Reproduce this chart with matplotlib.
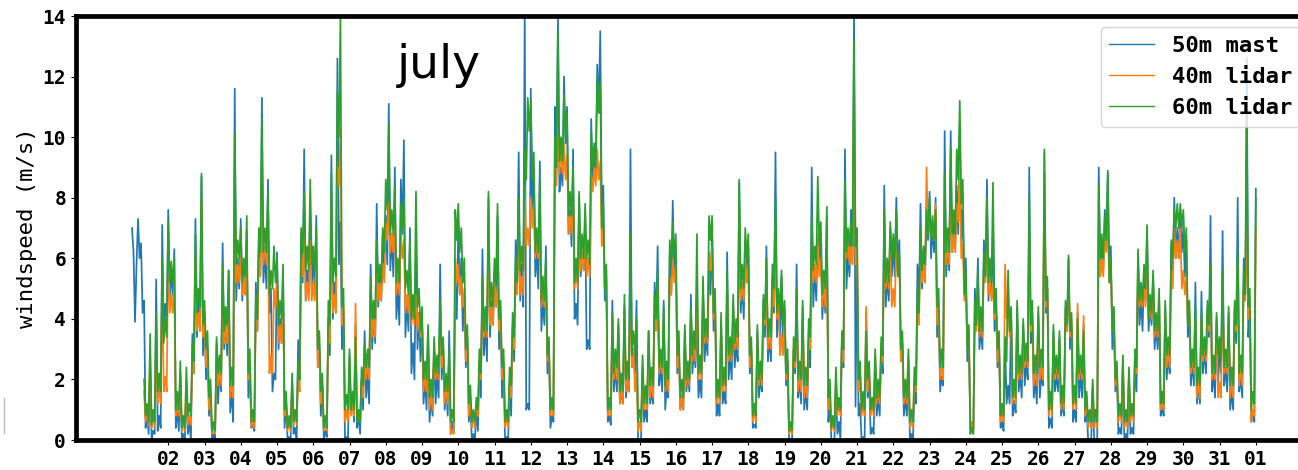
import numpy as np
import pandas as pd
import matplotlib
matplotlib.use("Agg")
import matplotlib.pyplot as plt
import matplotlib.dates as mdates
from matplotlib.lines import Line2D

nan = np.nan

# Wind speeds (m/s), 1 July 00:00 -> 1 August 00:00, one row per day.
# *_peak: readings on the even hours, *_dip: the troughs on the odd hours in between
mast_50m_peak = [
    7.0, 3.9, 7.3, 6.5, 4.6, 1.0, 2.4, 0.3, 5.3, 0.8, 7.1, 4.5,
    7.6, 5.6, 6.3, 1.0, 2.2, 0.2, 1.8, 0.6, 3.5, 7.3, 4.6, 8.7,
    4.2, 3.0, 1.6, 0.2, 3.2, 2.4, 6.5, 4.0, 5.6, 1.6, 11.6, 6.0,
    7.3, 5.6, 6.9, 2.4, 0.5, 5.2, 6.8, 11.3, 6.2, 8.6, 5.0, 2.2,
    6.2, 4.0, 5.6, 1.2, 0.1, 2.0, 0.4, 3.3, 6.8, 9.6, 5.6, 7.5,
    6.0, 7.4, 3.2, 1.8, 0.3, 4.0, 9.4, 5.2, 12.6, 7.2, 4.0, 0.1,
    2.8, 1.4, 3.8, 0.8, 2.0, 3.6, 2.2, 5.8, 4.2, 7.8, 5.4, 6.8,
    7.4, 11.1, 6.8, 9.0, 5.0, 8.6, 9.9, 4.6, 7.0, 3.2, 6.4, 4.2,
    4.0, 2.0, 3.6, 1.4, 3.0, 2.2, 5.8, 3.0, 1.8, 3.6, 0.6, 5.2,
    7.0, 6.0, 4.8, 3.4, 1.2, 0.2, 1.0, 2.6, 6.3, 3.8, 8.0, 4.6,
    5.6, 7.4, 4.0, 2.4, 0.1, 1.8, 3.8, 6.6, 9.5, 5.8, 14.2, 1.2,
    11.6, 8.8, 6.2, 9.2, 4.6, 6.4, 3.0, 0.8, 11.0, 13.9, 9.0, 12.0,
    11.0, 7.6, 9.6, 4.5, 8.0, 6.2, 7.4, 3.3, 10.6, 9.4, 12.4, 13.5,
    8.4, 5.4, 0.8, 4.6, 2.4, 3.8, 1.6, 4.4, 2.0, 9.6, 3.0, 4.6,
    0.0, 2.4, 1.0, 3.6, 1.6, 5.2, 6.4, 2.4, 4.6, 1.8, 6.2, 7.9,
    6.4, 3.0, 1.4, 3.6, 2.2, 4.8, 3.0, 4.2, 2.0, 5.0, 3.4, 6.0,
    7.0, 4.6, 1.2, 3.8, 1.6, 6.2, 2.8, 4.4, 3.2, 8.5, 5.2, 6.6,
    6.4, 3.0, 0.5, 3.6, 2.0, 4.6, 6.4, 3.4, 5.4, 9.5, 4.4, 5.4,
    4.4, 2.6, 0.0, 3.0, 5.8, 2.0, 4.4, 1.6, 3.2, 9.0, 5.6, 6.8,
    6.8, 5.0, 7.4, 1.2, 0.0, 1.8, 0.6, 3.4, 9.6, 6.2, 7.6, 14.2,
    6.0, 1.2, 0.1, 4.2, 2.0, 0.4, 2.6, 1.4, 3.0, 8.4, 5.4, 7.0,
    6.4, 8.0, 6.6, 3.2, 1.4, 2.6, 0.2, 1.6, 5.8, 7.8, 6.0, 7.8,
    8.2, 7.0, 8.0, 4.2, 2.1, 10.2, 6.4, 10.2, 7.2, 8.4, 10.4, 7.6,
    6.0, 3.4, 0.6, 5.0, 6.0, 3.6, 6.6, 8.6, 5.6, 7.2, 4.4, 3.2,
    0.6, 3.2, 1.8, 4.2, 1.3, 4.4, 2.2, 3.8, 2.6, 9.0, 4.0, 2.0,
    4.0, 2.2, 8.8, 5.0, 0.7, 3.6, 2.2, 3.4, 1.2, 4.4, 6.0, 3.8,
    1.0, 4.2, 2.2, 3.8, 1.0, 0.0, 1.6, 0.0, 9.0, 6.4, 7.6, 8.8,
    6.4, 4.0, 2.2, 0.4, 2.4, 0.2, 2.0, 0.4, 2.6, 6.0, 4.6, 5.6,
    6.8, 4.4, 5.4, 3.8, 4.6, 1.1, 4.4, 2.8, 6.4, 8.0, 7.0, 7.6,
    7.0, 6.6, 4.2, 2.6, 5.2, 1.8, 4.9, 3.0, 4.4, 7.4, 2.2, 4.0,
    3.0, 6.9, 2.4, 4.2, 1.6, 4.4, 8.0, 2.1, 6.0, 12.6, 4.2, 0.9,
    8.3,
]
mast_50m_dip = [
    6.2, 5.8, 6.0, 4.2, 0.4, 0.2, 0.0, 0.2, 0.3, 0.4, 3.6, 4.0,
    4.6, 4.8, 0.4, 0.3, 0.0, 0.0, 0.2, 0.0, 2.2, 3.4, 3.6, 2.8,
    2.0, 0.8, 0.0, 0.0, 1.2, 1.6, 3.0, 2.8, 0.9, 0.6, 4.6, 5.0,
    4.6, 4.8, 1.4, 0.4, 0.3, 3.6, 5.6, 5.2, 5.0, 4.2, 1.6, 2.0,
    3.0, 3.2, 0.4, 0.0, 0.0, 0.2, 0.0, 2.0, 5.2, 4.6, 4.8, 5.0,
    5.0, 2.4, 0.8, 0.0, 0.1, 2.8, 4.0, 4.2, 5.8, 3.0, 0.0, 0.0,
    0.9, 0.6, 0.4, 0.2, 1.0, 1.4, 1.2, 3.0, 3.2, 4.4, 4.6, 5.6,
    5.8, 5.6, 5.4, 4.0, 3.8, 6.8, 3.4, 3.6, 2.2, 2.0, 3.0, 2.6,
    1.2, 1.0, 0.6, 0.8, 1.2, 1.4, 2.0, 1.0, 0.8, 0.2, 0.3, 4.0,
    4.8, 3.6, 2.4, 0.6, 0.0, 0.0, 0.3, 1.4, 2.8, 2.6, 3.4, 3.8,
    4.4, 3.0, 1.4, 0.0, 0.0, 0.8, 2.6, 5.2, 4.6, 4.4, 1.0, 1.0,
    7.6, 5.4, 5.0, 3.6, 3.8, 2.2, 0.4, 0.6, 9.6, 8.2, 8.4, 9.8,
    6.8, 6.4, 4.0, 3.8, 5.4, 5.6, 3.0, 3.0, 8.4, 8.6, 10.8, 7.4,
    4.6, 0.6, 0.5, 1.6, 1.6, 1.2, 1.2, 1.4, 1.6, 2.4, 2.2, 0.0,
    0.0, 0.6, 0.6, 1.2, 1.2, 4.0, 1.8, 1.6, 1.0, 1.4, 4.8, 5.4,
    2.2, 1.0, 1.0, 1.6, 1.6, 2.2, 2.4, 1.4, 1.4, 2.6, 2.8, 4.8,
    3.6, 0.8, 0.8, 1.2, 1.2, 2.0, 2.0, 2.4, 2.6, 4.2, 4.0, 5.2,
    2.2, 0.4, 0.4, 1.4, 1.6, 3.4, 2.6, 2.6, 4.2, 3.4, 3.4, 3.0,
    1.8, 0.0, 0.0, 2.2, 1.4, 1.2, 1.0, 1.0, 2.4, 4.4, 4.6, 5.6,
    4.0, 4.2, 0.6, 0.0, 0.0, 0.2, 0.0, 2.4, 5.0, 5.4, 6.0, 1.1,
    0.8, 0.0, 0.0, 1.4, 0.2, 0.2, 0.8, 0.8, 2.2, 4.4, 4.6, 5.4,
    5.4, 5.6, 2.6, 0.8, 0.8, 0.0, 0.0, 1.2, 4.6, 5.0, 5.2, 6.6,
    6.0, 6.2, 3.4, 1.6, 1.8, 5.4, 5.6, 6.2, 6.4, 6.8, 6.6, 5.0,
    2.6, 0.4, 0.4, 3.8, 3.0, 3.0, 5.4, 4.6, 4.8, 3.6, 2.4, 0.4,
    0.3, 1.2, 1.2, 0.8, 0.9, 1.6, 1.4, 1.8, 2.0, 3.2, 1.4, 1.2,
    1.4, 1.8, 4.2, 0.4, 0.4, 1.6, 1.6, 0.8, 0.8, 3.6, 3.0, 0.6,
    0.6, 1.4, 1.4, 0.6, 0.0, 0.0, 0.0, 0.0, 5.4, 5.6, 6.6, 5.4,
    3.0, 1.6, 0.2, 0.2, 0.0, 0.0, 0.2, 0.2, 1.6, 3.8, 3.6, 4.6,
    3.6, 3.8, 3.0, 3.0, 0.8, 0.8, 2.0, 2.2, 5.4, 6.0, 6.0, 6.2,
    5.4, 3.4, 1.8, 1.8, 1.2, 1.2, 2.2, 2.2, 3.4, 1.6, 1.4, 1.8,
    2.2, 1.8, 1.6, 1.0, 1.0, 3.2, 1.6, 1.4, 4.8, 3.4, 0.6, 0.6,
]

lidar_40m_peak = [
    nan, nan, nan, nan, 1.6, 1.0, 2.8, 0.9, 3.6, 1.8, 5.4, 2.1,
    6.5, 4.8, 5.2, 1.2, 2.0, 0.6, 1.9, 0.8, 2.8, 6.0, 4.2, 7.9,
    4.0, 3.0, 1.5, 0.5, 2.8, 2.3, 5.0, 3.8, 5.0, 2.0, 9.0, 5.8,
    6.2, 5.4, 6.3, 2.6, 0.8, 4.3, 6.0, 9.2, 6.4, 7.0, 2.8, 5.0,
    5.2, 3.8, 4.6, 1.3, 0.6, 1.8, 0.9, 2.1, 6.0, 7.2, 5.2, 6.6,
    5.2, 6.0, 3.0, 1.8, 0.6, 3.8, 7.6, 4.8, 9.0, 10.3, 4.4, 1.0,
    2.6, 1.2, 4.5, 0.9, 2.0, 2.8, 2.6, 5.0, 4.0, 6.0, 5.2, 5.8,
    7.2, 7.8, 6.8, 7.2, 5.4, 6.8, 6.6, 4.8, 5.8, 4.4, 4.8, 4.2,
    4.0, 2.2, 3.3, 1.6, 3.0, 2.5, 4.0, 3.0, 1.8, 2.6, 0.3, 6.0,
    5.8, 5.4, 5.0, 3.2, 1.4, 0.8, 1.2, 2.6, 4.8, 4.0, 6.6, 4.4,
    5.2, 5.1, 4.2, 2.6, 0.8, 2.0, 3.6, 5.4, 6.8, 5.4, 8.4, 7.0,
    8.0, 7.8, 6.6, 7.2, 5.0, 5.6, 3.2, 1.2, 9.0, 10.0, 9.6, 9.8,
    9.4, 7.4, 8.4, 5.6, 7.4, 6.2, 7.0, 6.0, 8.8, 9.0, 9.6, 9.2,
    7.0, 5.6, 1.2, 3.8, 2.6, 3.6, 1.8, 4.0, 2.2, 5.4, 3.0, 2.2,
    0.6, 2.4, 1.4, 3.2, 2.0, 4.2, 5.0, 2.8, 4.0, 2.2, 5.4, 6.0,
    5.8, 3.0, 1.5, 3.4, 2.4, 4.0, 3.2, 5.2, 2.6, 4.8, 3.8, 6.2,
    6.4, 4.6, 1.8, 3.8, 2.2, 5.0, 3.2, 4.2, 3.6, 7.4, 5.2, 6.0,
    5.8, 3.0, 1.0, 3.4, 2.4, 4.4, 5.4, 3.6, 5.0, 6.4, 4.6, 3.5,
    4.2, 2.6, 0.4, 3.0, 4.6, 2.2, 4.2, 2.0, 3.6, 6.4, 5.8, 6.8,
    6.0, 5.1, 6.2, 1.6, 0.6, 2.0, 1.2, 3.2, 7.6, 6.6, 6.4, 12.2,
    6.4, 2.2, 1.2, 4.4, 2.2, 1.2, 2.8, 1.8, 3.2, 7.0, 5.6, 6.2,
    5.0, 6.6, 6.0, 3.2, 1.8, 2.8, 0.8, 2.0, 4.3, 6.4, 5.8, 9.0,
    7.4, 7.2, 7.8, 4.4, 2.6, 7.6, 6.4, 8.2, 6.8, 7.8, 9.2, 6.5,
    5.2, 3.6, 0.6, 4.2, 5.0, 4.0, 5.8, 7.0, 5.4, 5.1, 4.6, 3.2,
    1.0, 5.8, 4.6, 4.0, 1.8, 4.0, 2.6, 3.6, 3.0, 6.6, 4.2, 2.4,
    4.2, 2.6, 9.5, 5.0, 1.4, 3.4, 2.6, 3.2, 1.6, 4.2, 5.4, 4.0,
    1.6, 4.5, 2.6, 4.1, 1.4, 0.8, 1.8, 0.8, 7.0, 6.0, 6.8, 7.0,
    5.8, 4.3, 2.4, 1.0, 2.6, 0.8, 2.2, 1.0, 2.8, 5.6, 5.0, 5.0,
    6.0, 4.6, 5.2, 4.0, 4.8, 1.4, 4.2, 3.0, 5.6, 7.0, 6.6, 7.0,
    5.6, 5.4, 4.4, 2.8, 4.0, 2.0, 4.0, 3.2, 4.2, 5.2, 2.6, 3.8,
    1.9, 5.2, 2.8, 4.0, 2.0, 4.2, 5.8, 2.4, 5.2, 7.0, 4.6, 1.0,
    7.0,
]
lidar_40m_dip = [
    nan, nan, nan, nan, 0.6, 0.5, 0.4, 0.4, 1.2, 1.2, 1.6, 1.6,
    4.2, 4.2, 0.8, 0.8, 0.3, 0.3, 0.5, 0.5, 2.2, 3.6, 3.6, 3.4,
    2.4, 1.0, 0.2, 0.2, 1.8, 1.8, 3.2, 3.2, 1.4, 1.4, 5.2, 5.2,
    4.8, 4.8, 2.0, 0.4, 0.4, 3.6, 5.4, 5.8, 5.8, 2.2, 2.2, 4.4,
    3.2, 3.2, 0.8, 0.3, 0.3, 0.5, 0.5, 1.6, 5.4, 4.6, 4.6, 4.6,
    4.6, 2.4, 1.2, 0.3, 0.3, 3.2, 4.2, 4.2, 8.4, 3.8, 0.6, 0.6,
    0.8, 0.8, 0.6, 0.6, 1.4, 2.0, 2.0, 3.4, 3.4, 4.6, 4.6, 5.2,
    6.6, 6.2, 6.2, 4.8, 4.8, 6.0, 4.2, 4.2, 3.8, 3.8, 3.6, 3.4,
    1.6, 1.6, 1.0, 1.0, 2.0, 2.0, 2.4, 1.2, 1.2, 0.2, 0.2, 5.2,
    4.8, 4.4, 2.6, 0.8, 0.4, 0.4, 0.8, 2.0, 3.4, 3.4, 3.8, 3.8,
    4.4, 3.6, 2.0, 0.4, 0.4, 1.4, 3.0, 4.8, 4.8, 4.8, 6.4, 6.4,
    7.0, 6.0, 6.0, 4.4, 4.4, 2.6, 0.8, 0.8, 8.4, 8.8, 8.8, 8.6,
    6.8, 6.8, 5.0, 5.0, 5.6, 5.6, 5.4, 5.4, 8.2, 8.4, 8.6, 6.4,
    5.0, 0.8, 0.8, 2.0, 2.0, 1.2, 1.2, 1.6, 1.6, 2.4, 1.6, 0.3,
    0.3, 1.0, 1.0, 1.4, 1.4, 3.6, 2.2, 2.2, 1.6, 1.6, 4.8, 5.2,
    2.4, 1.0, 1.0, 1.8, 1.8, 2.6, 2.6, 2.0, 2.0, 3.2, 3.2, 5.6,
    4.0, 1.2, 1.2, 1.6, 1.6, 2.6, 2.6, 3.0, 3.0, 4.6, 4.6, 5.2,
    2.4, 0.6, 0.6, 1.8, 1.8, 3.8, 3.0, 3.0, 4.4, 4.0, 2.8, 2.8,
    2.0, 0.2, 0.2, 2.4, 1.6, 1.6, 1.4, 1.4, 3.0, 5.2, 5.2, 5.4,
    4.4, 4.4, 1.0, 0.3, 0.3, 0.8, 0.8, 2.6, 6.0, 5.8, 5.8, 5.8,
    1.6, 0.8, 0.8, 1.6, 0.8, 0.8, 1.2, 1.2, 2.6, 5.0, 5.0, 4.4,
    4.4, 5.4, 2.6, 1.2, 1.2, 0.4, 0.4, 1.6, 3.8, 5.2, 5.2, 6.8,
    6.6, 6.6, 3.8, 2.0, 2.0, 5.8, 5.8, 6.2, 6.2, 7.2, 6.0, 4.6,
    3.0, 0.3, 0.3, 3.6, 3.4, 3.4, 5.2, 4.8, 4.6, 4.0, 2.6, 0.6,
    0.6, 4.0, 3.4, 1.2, 1.2, 2.0, 2.0, 2.4, 2.4, 3.6, 1.8, 1.8,
    2.0, 2.0, 4.4, 0.8, 0.8, 2.0, 2.0, 1.0, 1.0, 3.6, 3.4, 1.0,
    1.0, 2.0, 2.0, 0.8, 0.4, 0.4, 0.4, 0.4, 5.4, 5.4, 6.2, 5.2,
    3.6, 1.8, 0.6, 0.6, 0.4, 0.4, 0.6, 0.6, 2.2, 4.4, 4.4, 4.4,
    4.0, 4.0, 3.4, 3.4, 1.0, 1.0, 2.4, 2.4, 5.0, 6.0, 6.0, 5.0,
    4.8, 3.8, 2.2, 2.2, 1.4, 1.4, 2.6, 2.6, 3.6, 2.0, 2.0, 1.4,
    1.4, 2.2, 2.2, 1.4, 1.4, 3.6, 1.8, 1.8, 4.6, 4.0, 0.6, 0.8,
]

lidar_60m_peak = [
    nan, nan, nan, nan, 2.0, 1.2, 3.5, 1.0, 4.2, 2.2, 6.0, 4.0,
    7.2, 5.9, 6.0, 1.6, 2.6, 0.8, 2.4, 1.2, 3.2, 6.8, 5.0, 8.8,
    4.6, 3.6, 2.0, 0.6, 3.4, 2.8, 5.8, 4.4, 5.6, 2.4, 10.1, 6.6,
    7.0, 6.0, 7.4, 3.0, 1.0, 4.8, 7.0, 10.6, 7.0, 8.2, 5.6, 6.4,
    6.0, 4.6, 5.8, 1.6, 0.8, 2.2, 1.0, 2.6, 7.0, 8.2, 6.4, 8.6,
    6.4, 7.0, 3.6, 2.2, 0.8, 4.6, 8.8, 6.0, 11.5, 14.0, 5.0, 1.5,
    3.0, 1.6, 3.4, 1.0, 2.4, 3.2, 3.0, 5.4, 4.6, 6.6, 5.8, 7.0,
    8.6, 10.4, 7.6, 8.4, 6.0, 7.8, 8.0, 5.6, 6.6, 4.8, 8.2, 5.0,
    4.4, 2.6, 3.8, 2.0, 3.4, 2.8, 4.6, 3.4, 2.2, 3.0, 1.0, 7.6,
    7.8, 7.0, 6.0, 3.8, 1.8, 1.0, 1.4, 3.0, 5.4, 4.4, 8.2, 5.2,
    6.0, 7.8, 4.6, 3.0, 1.0, 2.4, 4.2, 6.0, 8.0, 6.4, 9.6, 11.3,
    11.2, 9.5, 7.0, 8.6, 5.4, 6.0, 3.4, 1.4, 10.0, 13.5, 10.0, 11.4,
    10.8, 8.2, 9.0, 6.0, 8.2, 6.8, 7.8, 6.6, 10.2, 9.8, 12.0, 11.8,
    7.8, 5.8, 1.4, 4.2, 3.0, 4.0, 2.2, 4.8, 2.6, 6.8, 3.6, 4.0,
    1.0, 2.8, 1.8, 3.6, 2.4, 4.8, 5.6, 3.0, 4.4, 2.6, 6.6, 7.2,
    6.8, 3.6, 2.0, 3.8, 2.6, 4.4, 3.6, 6.8, 2.8, 5.4, 4.0, 7.4,
    7.4, 5.0, 2.0, 4.2, 2.4, 5.6, 3.4, 4.8, 4.0, 8.6, 5.8, 7.0,
    6.8, 3.4, 1.2, 3.8, 2.6, 4.8, 6.0, 4.0, 5.8, 8.0, 5.0, 5.6,
    4.6, 3.0, 0.6, 3.4, 5.0, 2.6, 4.6, 2.4, 4.0, 7.4, 6.4, 8.7,
    7.2, 5.6, 7.7, 2.0, 0.8, 2.4, 1.4, 3.6, 8.6, 7.0, 7.2, 13.2,
    7.0, 2.6, 1.6, 3.6, 2.6, 1.4, 3.0, 2.0, 3.4, 7.6, 6.0, 7.2,
    6.8, 7.6, 6.2, 3.6, 2.0, 3.0, 1.0, 2.4, 5.0, 7.0, 6.4, 7.6,
    8.0, 7.4, 7.6, 5.0, 3.0, 8.8, 7.0, 9.6, 7.6, 9.6, 11.2, 8.6,
    5.6, 3.8, 0.4, 4.6, 5.6, 4.4, 6.2, 8.0, 6.0, 8.5, 5.0, 3.6,
    1.2, 3.4, 5.6, 4.4, 2.0, 4.6, 2.8, 4.0, 3.2, 8.0, 4.6, 2.8,
    4.4, 3.0, 9.6, 5.4, 1.6, 3.8, 2.8, 3.6, 1.8, 4.6, 6.1, 4.2,
    1.8, 4.0, 2.8, 3.6, 1.6, 1.0, 2.0, 1.0, 8.4, 6.8, 7.4, 8.9,
    6.0, 4.4, 2.6, 1.2, 2.8, 1.0, 2.4, 1.2, 3.0, 6.3, 5.2, 5.8,
    7.1, 4.8, 5.6, 4.2, 5.0, 1.6, 4.6, 3.4, 6.6, 7.6, 7.8, 7.8,
    7.6, 7.0, 4.6, 3.0, 4.4, 2.4, 4.2, 3.4, 4.6, 5.8, 2.8, 4.2,
    3.4, 5.6, 3.0, 4.4, 2.4, 4.6, 6.4, 2.8, 5.6, 10.6, 5.0, 1.6,
    8.0,
]
lidar_60m_dip = [
    nan, nan, nan, nan, 0.8, 0.6, 0.5, 0.6, 1.6, 1.6, 3.2, 3.4,
    5.2, 5.2, 1.0, 1.0, 0.4, 0.4, 0.8, 0.8, 2.6, 4.2, 4.4, 3.8,
    3.0, 1.4, 0.3, 0.3, 2.2, 2.2, 3.6, 3.8, 1.8, 1.8, 5.8, 6.0,
    5.2, 5.4, 2.2, 0.6, 0.6, 4.0, 6.2, 6.2, 6.2, 4.8, 5.0, 5.2,
    3.8, 4.0, 1.0, 0.4, 0.4, 0.6, 0.6, 2.0, 6.2, 5.6, 5.6, 5.8,
    5.6, 3.0, 1.6, 0.4, 0.4, 3.8, 5.2, 5.4, 10.0, 4.4, 1.0, 1.0,
    1.0, 1.0, 0.6, 0.6, 1.8, 2.4, 2.4, 4.0, 4.0, 5.2, 5.2, 6.2,
    7.6, 6.8, 6.8, 5.2, 5.2, 7.0, 5.0, 4.8, 4.0, 4.0, 4.4, 3.6,
    2.0, 2.0, 1.4, 1.4, 2.2, 2.2, 2.8, 1.6, 1.6, 0.6, 0.6, 6.6,
    6.2, 5.2, 3.0, 1.2, 0.6, 0.6, 1.0, 2.2, 3.6, 3.6, 4.4, 4.4,
    5.2, 4.0, 2.4, 0.6, 0.6, 1.8, 3.4, 5.2, 5.6, 5.6, 8.6, 10.2,
    8.6, 6.2, 6.2, 4.6, 4.6, 2.8, 1.0, 1.0, 9.0, 9.2, 9.2, 10.0,
    7.4, 7.4, 5.2, 5.2, 6.0, 6.0, 6.0, 5.8, 9.0, 9.0, 10.8, 7.0,
    5.0, 1.0, 1.0, 2.2, 2.4, 1.6, 1.6, 2.0, 2.0, 2.8, 3.0, 0.6,
    0.6, 1.2, 1.2, 1.8, 1.8, 4.0, 2.4, 2.4, 1.8, 2.0, 5.8, 6.0,
    2.8, 1.4, 1.4, 2.0, 2.0, 2.8, 3.0, 2.2, 2.2, 3.4, 3.4, 6.6,
    4.2, 1.4, 1.4, 1.8, 1.8, 2.8, 2.8, 3.2, 3.4, 5.0, 5.0, 6.0,
    2.8, 0.8, 0.8, 2.0, 2.0, 4.0, 3.4, 3.4, 5.0, 4.2, 4.2, 3.8,
    2.2, 0.3, 0.3, 2.6, 2.0, 2.0, 1.8, 1.8, 3.4, 5.6, 5.8, 6.4,
    4.8, 5.0, 1.4, 0.4, 0.4, 1.0, 1.0, 3.0, 6.2, 6.4, 6.4, 6.4,
    2.0, 1.0, 1.0, 2.0, 1.0, 1.0, 1.4, 1.4, 2.8, 5.2, 5.2, 6.0,
    6.0, 5.4, 3.0, 1.4, 1.4, 0.6, 0.6, 1.8, 4.2, 5.6, 5.8, 6.8,
    6.6, 6.6, 4.4, 2.4, 2.4, 6.2, 6.2, 6.8, 6.8, 8.6, 7.8, 4.8,
    3.0, 0.2, 0.2, 3.8, 3.6, 3.6, 5.4, 5.2, 5.2, 4.2, 3.0, 0.8,
    0.8, 2.6, 3.6, 1.4, 1.4, 2.2, 2.2, 2.6, 2.6, 3.8, 2.2, 2.2,
    2.4, 2.4, 4.6, 1.0, 1.0, 2.2, 2.2, 1.2, 1.2, 3.8, 3.6, 1.2,
    1.2, 2.2, 2.2, 1.0, 0.6, 0.6, 0.6, 0.6, 6.0, 6.0, 6.6, 5.2,
    3.6, 2.0, 0.8, 0.8, 0.6, 0.6, 0.8, 0.8, 2.4, 4.6, 4.6, 5.0,
    4.0, 4.2, 3.6, 3.6, 1.2, 1.2, 2.8, 2.8, 6.0, 7.0, 7.0, 7.0,
    6.2, 3.8, 2.4, 2.4, 1.8, 1.8, 2.8, 2.8, 3.8, 2.2, 2.2, 2.8,
    2.6, 2.4, 2.4, 1.8, 1.8, 3.8, 2.2, 2.2, 4.8, 4.4, 1.0, 1.2,
]

series_labels = ["50m mast", "40m lidar", "60m lidar"]
series_colors = ["tab:blue", "tab:orange", "tab:green"]
peak_times = pd.date_range("2019-07-01 00:00", periods=len(mast_50m_peak), freq="2h")
dip_times = pd.date_range("2019-07-01 01:00", periods=len(mast_50m_dip), freq="2h")
tick_days = pd.date_range("2019-07-02", "2019-08-01", freq="D")


def hourly(peak, dip):
    s = pd.concat([pd.Series(peak, index=peak_times), pd.Series(dip, index=dip_times)])
    return s.sort_index()


plt.rcParams["font.family"] = "monospace"
plt.rcParams["font.monospace"] = ["DejaVu Sans Mono"]

fig = plt.figure(figsize=(12.98, 4.70), dpi=100)
# axes run a little past the right edge of the figure
ax = fig.add_axes([0.0584, 0.0638, 0.9524, 0.9021])

pairs = [(mast_50m_peak, mast_50m_dip),
         (lidar_40m_peak, lidar_40m_dip),
         (lidar_60m_peak, lidar_60m_dip)]
for (pk, dp), col, lab in zip(pairs, series_colors, series_labels):
    s = hourly(pk, dp)
    ax.plot(s.index, s.values, color=col, lw=1.25, label=lab)

ax.set_ylim(0, 14)
ax.set_xticks(tick_days)
ax.xaxis.set_major_formatter(mdates.DateFormatter("%d"))
ax.tick_params(labelsize=14)
for lbl in ax.get_xticklabels() + ax.get_yticklabels():
    lbl.set_fontweight("bold")
ax.set_ylabel("windspeed (m/s)", fontsize=16)

for sp in ax.spines.values():
    sp.set_linewidth(3.4)
    sp.set_color("black")

ax.text(0.26, 0.855, "july", transform=ax.transAxes, fontsize=34,
        family="DejaVu Sans", va="baseline")

leg = ax.legend(loc="upper right", prop={"family": "monospace", "weight": "bold", "size": 16})
for h in leg.get_lines():
    h.set_linewidth(1.0)

fig.add_artist(Line2D([0.003, 0.003], [0.079, 0.153], color="#bbbbbb", lw=1))

fig.savefig("out.png", dpi=100)
